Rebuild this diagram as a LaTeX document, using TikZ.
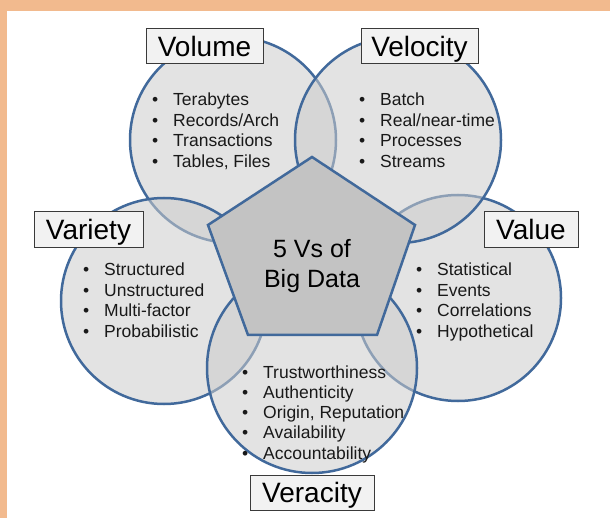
\documentclass[tikz,border=0pt]{standalone}
\usepackage{fontspec}
\setmainfont{Liberation Sans}
\definecolor{cblue}{HTML}{41699B}
\definecolor{cfill}{HTML}{CCCCCC}
\definecolor{pfill}{HTML}{C3C3C3}
\definecolor{lfill}{HTML}{F2F2F2}
\definecolor{lborder}{HTML}{3A3A3A}
\definecolor{frame}{HTML}{F2BA8E}
\newcommand\bulitem{\makebox[21pt][l]{\textbullet}}
\begin{document}
\begin{tikzpicture}[x=1pt,y=-1pt,
  circ/.style={circle,draw=cblue,line width=2.5pt,fill=cfill,fill opacity=0.55,draw opacity=1,minimum size=206pt,inner sep=0},
  item/.style={anchor=base west,inner sep=0,font=\fontsize{17.5}{20}\selectfont,text=black!90},
  lbl/.style={draw=lborder,fill=lfill,line width=1pt,inner sep=0,text height=20pt,text depth=0pt,font=\fontsize{28}{30}\selectfont,minimum height=35pt},
  core/.style={anchor=base,inner sep=0,font=\fontsize{25}{30}\selectfont}]
\useasboundingbox (0,0) rectangle (610,518);
\fill[white] (0,0) rectangle (610,518);
\fill[frame] (0,0) rectangle (610,11);
\fill[frame] (0,0) rectangle (7,518);
% circles (drawing order matters for the faded overlaps)
\node[circ] (volume) at (233,140) {};
\node[circ] (value) at (458,298) {};
\node[circ] (variety) at (164,301) {};
\node[circ] (velocity) at (398,140) {};
\node[circ,minimum size=210pt] (veracity) at (312,368) {};
% pentagon
\draw[cblue,line width=2.5pt,fill=pfill,line join=miter]
  (312,157) -- (415,225) -- (377,335) -- (248,335) -- (208,225) -- cycle;
\node[core] (core1) at (312,258) {5 Vs of};
\node[core] (core2) at (312,288) {Big Data};
% bullet lists
\foreach \t [count=\i from 0] in {Terabytes,Records/Arch,Transactions,{Tables, Files}}
  \node[item] (vol\i) at (152,{106+20.5*\i}) {\bulitem\t};
\foreach \t [count=\i from 0] in {Batch,Real/near-time,Processes,Streams}
  \node[item] (vel\i) at (359,{106+20.5*\i}) {\bulitem\t};
\foreach \t [count=\i from 0] in {Structured,Unstructured,Multi-factor,Probabilistic}
  \node[item] (var\i) at (83,{276+20.4*\i}) {\bulitem\t};
\foreach \t [count=\i from 0] in {Statistical,Events,Correlations,Hypothetical}
  \node[item] (val\i) at (416,{276+20.4*\i}) {\bulitem\t};
\foreach \t [count=\i from 0] in {Trustworthiness,Authenticity,{Origin, Reputation},Availability,Accountability}
  \node[item] (ver\i) at (242,{378+20.3*\i}) {\bulitem\t};
% labels
\node[lbl,minimum width=117pt] (lvolume) at (204.5,46.5) {Volume};
\node[lbl,minimum width=117pt] (lvelocity) at (419.5,46.5) {Velocity};
\node[lbl,minimum width=109pt,minimum height=36pt] (lvariety) at (88.5,230) {Variety};
\node[lbl,minimum width=94pt,minimum height=36pt] (lvalue) at (531,230) {Value};
\node[lbl,minimum width=124pt] (lveracity) at (312,492.5) {Veracity};
\end{tikzpicture}
\end{document}
